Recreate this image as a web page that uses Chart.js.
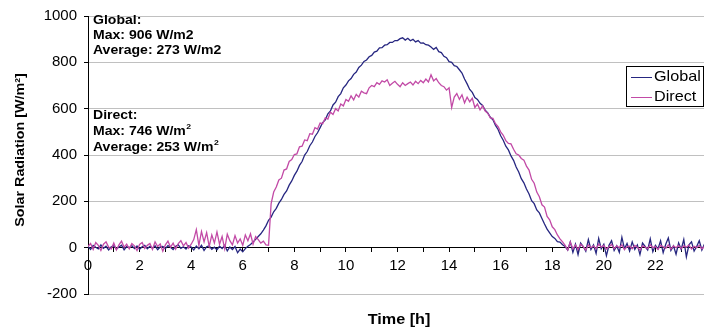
<!DOCTYPE html>
<html>
<head>
<meta charset="utf-8">
<script src="https://cdn.jsdelivr.net/npm/chart.js@4.4.1/dist/chart.umd.min.js"></script>
<style>
html,body{margin:0;padding:0;background:#fff;overflow:hidden;width:704px;height:334px;}
canvas{display:block;}
</style>
</head>
<body>
<canvas id="c" width="712" height="334" style="width:712px;height:334px"></canvas>
<script>
// Time in hours, 0.1 h steps from 0 to 24
const hours = Array.from({length: 241}, (_, i) => i / 10);

const globalRad = [
  5, -8, 10, 2, -5, 12, -3, 6, -10, 4,
  8, -6, 3, 11, -9, 5, 0, 9, -4, 7,
  -7, 4, 10, -5, 6, -2, 8, -9, 3, 5,
  -4, 9, 2, -8, 6, 12, -3, 4, -6, 8,
  3, -10, 7, -5, 10, -12, 4, 8, -7, 2,
  -9, 6, -4, 10, -14, 3, -8, 5, -22, -6,
  -18, -4, 6, 14, 24, 36, 48, 60, 76, 94,
  118, 132, 155, 170, 192, 208, 230, 245, 270, 288,
  312, 330, 355, 372, 400, 415, 440, 456, 480, 496,
  518, 540, 552, 578, 590, 616, 628, 652, 665, 690,
  702, 720, 730, 748, 758, 778, 788, 804, 810, 824,
  830, 844, 848, 862, 863, 874, 876, 886, 886, 894,
  894, 902, 906, 896, 904, 893, 899, 888, 894, 883,
  884, 876, 874, 866, 856, 864, 846, 842, 826, 820,
  803, 800, 786, 782, 768, 754, 728, 707, 683, 670,
  648, 640, 623, 614, 593, 582, 563, 552, 528, 510,
  483, 464, 438, 422, 396, 377, 348, 327, 298, 280,
  253, 232, 203, 190, 163, 150, 126, 102, 80, 64,
  48, 40, 26, 24, 13, 5, -10, 25, -20, 15,
  -30, 20, 5, -15, 35, -8, 12, -25, 40, -5,
  15, -35, 10, 30, -12, 8, -20, 45, -5, 18,
  -15, 25, -8, 12, -30, 20, 5, -10, 38, -18,
  10, -5, 30, -22, 15, 42, -12, 8, -28, 20,
  -8, 35, -40, 12, 25, -15, 5, 30, -10, 15,
  -30
];

const directRad = [
  5, 18, -8, 22, 10, -12, 15, 25, 3, -6,
  20, -10, 12, 28, 2, 15, -5, 18, 8, -12,
  14, 22, -4, 10, 18, -8, 25, 5, 16, -15,
  12, 28, 2, 20, -6, 18, 30, 8, 22, -2,
  15, 35, 78, 10, 70, 25, 65, 5, 55, 20,
  68, 15, 48, -5, 58, 30, 12, 52, 20, 38,
  10, 55, 30, 60, 15, 48, 35, 20, 28, 12,
  10, 190, 240, 262, 292, 300, 335, 340, 372, 380,
  402, 405, 435, 438, 465, 462, 492, 490, 518, 512,
  538, 535, 560, 555, 585, 575, 600, 590, 620, 612,
  640, 632, 655, 638, 662, 650, 675, 668, 665, 690,
  700, 695, 712, 705, 720, 715, 725, 700, 710, 718,
  705, 695, 712, 700, 708, 715, 702, 718, 708, 722,
  712, 728, 715, 746, 720, 730, 712, 700, 695, 680,
  690, 605, 650, 665, 640, 660, 625, 650, 630, 645,
  605, 620, 595, 612, 590, 580, 560, 558, 535, 522,
  500, 485, 462, 450, 448, 425, 405, 400, 385, 378,
  352, 335, 295, 278, 240, 220, 185, 175, 135, 120,
  90, 78, 55, 38, 25, 10, -10, 25, -5, 12,
  -8, 15, 5, -10, 12, 0, 8, -5, 15, 2,
  10, -6, 4, 14, -4, 8, 0, 12, -8, 5,
  6, -5, 10, 2, -10, 8, 3, -4, 12, 0,
  5, -8, 10, 4, -3, 12, -6, 8, 0, 10,
  -4, 8, 2, 12, -6, 6, 0, 10, -5, 5,
  2
];

const seriesNames = ['Global', 'Direct'];
const seriesColors = ['#262680', '#c24aa6'];
const yTicks = [-200, 0, 200, 400, 600, 800, 1000];
const xTickLabels = [0, 2, 4, 6, 8, 10, 12, 14, 16, 18, 20, 22];
const globalNotes = ['Global:', 'Max: 906 W/m2', 'Average: 273 W/m2'];
const directNotes = ['Direct:', 'Max: 746 W/m', 'Average: 253 W/m'];
const xTitle = 'Time [h]';
const yTitle = 'Solar Radiation [W/m²]';

const FONT = '"Liberation Sans", Arial, Helvetica, sans-serif';

function toPoints(arr) { return arr.map((v, i) => ({x: hours[i], y: v})); }

const textPlugin = {
  id: 'texts',
  afterDraw(chart) {
    const ctx = chart.ctx;
    const sx = 1.08;
    function txt(s, x, y, size, bold, align) {
      ctx.save();
      ctx.font = (bold ? 'bold ' : '') + size + 'px ' + FONT;
      ctx.textBaseline = 'middle';
      ctx.textAlign = align || 'left';
      ctx.fillStyle = '#000';
      ctx.translate(x, y);
      ctx.scale(sx, 1);
      ctx.fillText(s, 0, 0);
      const w = ctx.measureText(s).width * sx;
      ctx.restore();
      return w;
    }
    // annotations
    const ax = 93;
    txt(globalNotes[0], ax, 20, 13, true);
    txt(globalNotes[1], ax, 35, 13, true);
    txt(globalNotes[2], ax, 50, 13, true);
    txt(directNotes[0], ax, 115, 13, true);
    let w = txt(directNotes[1], ax, 131.5, 13, true);
    txt('2', ax + w + 0.5, 127, 8, true);
    w = txt(directNotes[2], ax, 147, 13, true);
    txt('2', ax + w + 0.5, 142.5, 8, true);

    // x title
    txt(xTitle, 399, 320, 15, true, 'center');

    // y title (rotated)
    ctx.save();
    ctx.translate(20.5, 150);
    ctx.rotate(-Math.PI / 2);
    ctx.font = 'bold 13px ' + FONT;
    ctx.textAlign = 'center';
    ctx.textBaseline = 'middle';
    ctx.fillStyle = '#000';
    ctx.scale(1.1, 1);
    ctx.fillText(yTitle, 0, 0);
    ctx.restore();

    // legend
    ctx.save();
    ctx.strokeStyle = '#000';
    ctx.lineWidth = 1;
    ctx.strokeRect(626.5, 66.5, 77, 40);
    const rows = [77, 97];
    for (let i = 0; i < 2; i++) {
      ctx.strokeStyle = seriesColors[i];
      ctx.beginPath();
      ctx.moveTo(631, rows[i] + 0.5);
      ctx.lineTo(652, rows[i] + 0.5);
      ctx.stroke();
    }
    ctx.restore();
    txt(seriesNames[0], 654, 77, 15, false);
    txt(seriesNames[1], 654, 97, 15, false);
  }
};

new Chart(document.getElementById('c'), {
  type: 'line',
  data: {
    datasets: [
      {label: seriesNames[0], data: toPoints(globalRad), borderColor: seriesColors[0], borderWidth: 1.3, pointRadius: 0, tension: 0, order: 1},
      {label: seriesNames[1], data: toPoints(directRad), borderColor: seriesColors[1], borderWidth: 1.3, pointRadius: 0, tension: 0, order: 0}
    ]
  },
  options: {
    responsive: false,
    animation: false,
    devicePixelRatio: 1,
    layout: {padding: {left: 0, right: 4, top: 13, bottom: 40}},
    plugins: {legend: {display: false}, tooltip: {enabled: false}},
    scales: {
      x: {
        type: 'linear',
        min: 0, max: 24,
        position: {y: 0},
        ticks: {
          stepSize: 1,
          autoSkip: false,
          maxRotation: 0,
          padding: 5,
          color: '#000',
          font: {family: FONT, size: 15},
          callback: v => xTickLabels.includes(v) ? String(v) : ''
        },
        grid: {drawOnChartArea: false, drawTicks: true, tickLength: 4, tickColor: '#000', color: '#000'},
        border: {display: true, color: '#000', width: 1}
      },
      y: {
        min: -200, max: 1000,
        afterFit: s => { s.width = 88; },
        afterBuildTicks: s => { s.ticks = yTicks.map(v => ({value: v})); },
        ticks: {
          padding: 7,
          color: '#000',
          font: {family: FONT, size: 15},
          callback: v => String(v)
        },
        grid: {
          color: c => (c.tick && c.tick.value === 0) ? '#000' : '#c0c0c0',
          lineWidth: 1,
          tickLength: 4,
          tickColor: '#000'
        },
        border: {display: true, color: '#000', width: 1}
      }
    }
  },
  plugins: [textPlugin]
});
</script>
</body>
</html>
